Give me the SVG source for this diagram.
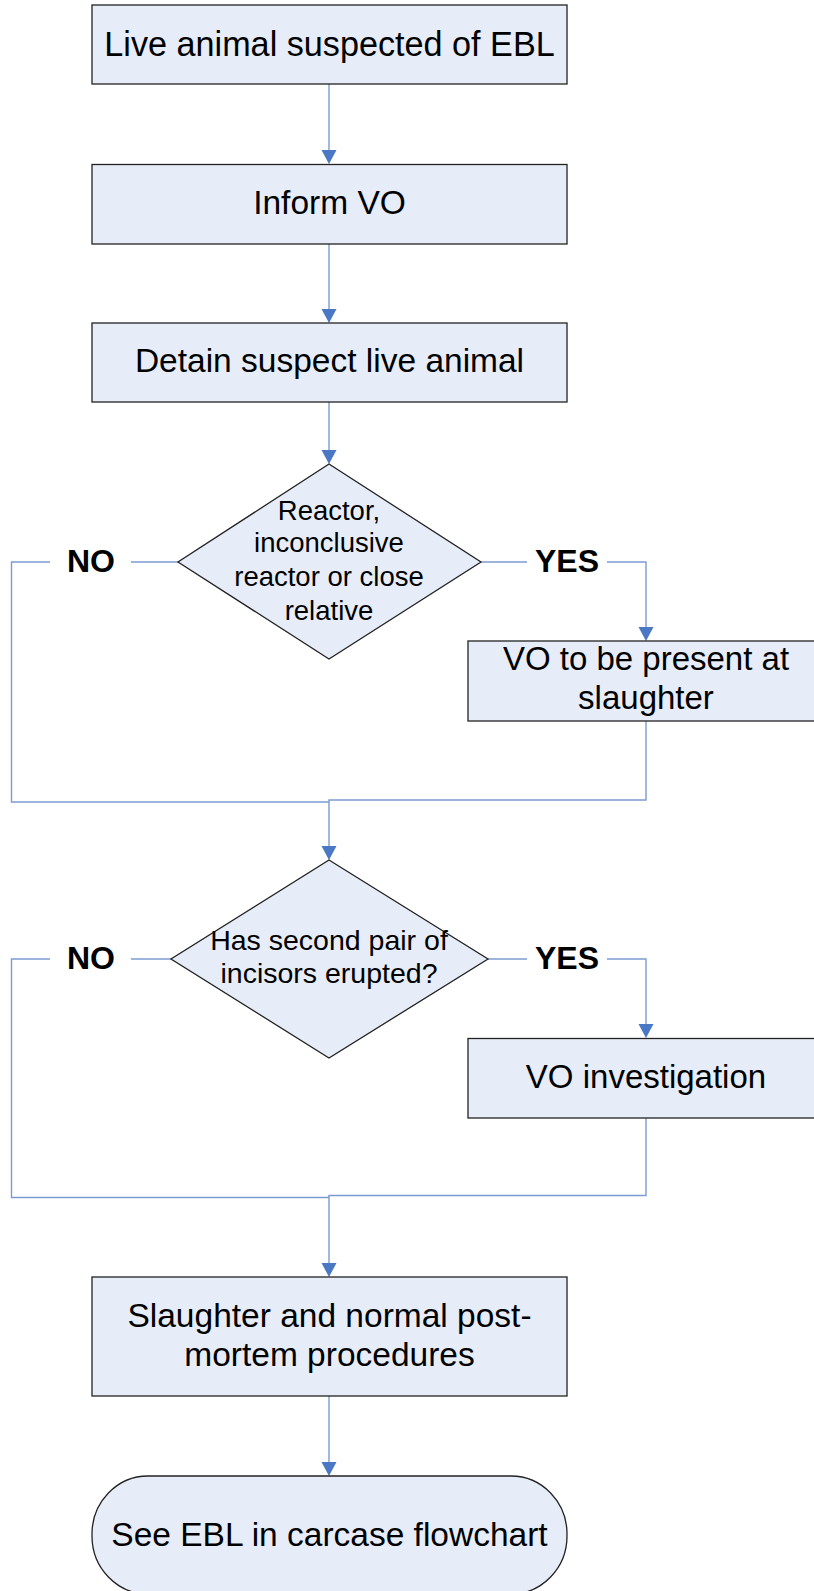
<svg xmlns="http://www.w3.org/2000/svg" width="814" height="1591" viewBox="0 0 814 1591">
<style>
.n{fill:#E7EDF8;stroke:#222;stroke-width:1.3}
.t{font-family:"Liberation Sans",Arial,sans-serif;font-size:33.5px;fill:#000;text-anchor:middle}
.d{font-family:"Liberation Sans",Arial,sans-serif;font-size:27.5px;fill:#000;text-anchor:middle}
.l{font-family:"Liberation Sans",Arial,sans-serif;font-size:32px;font-weight:bold;fill:#000;text-anchor:middle}
.c{fill:none;stroke:#7C9BD2;stroke-width:1.4}
.h{fill:#4A78C4}
</style>
<rect width="814" height="1591" fill="#fff"/>
<g id="connectors">
<line class="c" x1="329" y1="84" x2="329" y2="151"/>
<polygon class="h" points="321.5,150 336.5,150 329,164"/>
<line class="c" x1="329" y1="244" x2="329" y2="310"/>
<polygon class="h" points="321.5,309 336.5,309 329,323"/>
<line class="c" x1="329" y1="402" x2="329" y2="451"/>
<polygon class="h" points="321.5,450 336.5,450 329,464"/>
<polyline class="c" points="178,562 131,562"/>
<polyline class="c" points="50,562 11.5,562 11.5,802 329,802"/>
<polyline class="c" points="481,562 527,562"/>
<polyline class="c" points="607,562 646,562 646,628"/>
<polygon class="h" points="638.5,627 653.5,627 646,641"/>
<polyline class="c" points="646,721 646,800 329,800 329,847"/>
<polygon class="h" points="321.5,846 336.5,846 329,860"/>
<polyline class="c" points="171,959 131,959"/>
<polyline class="c" points="50,959 11.5,959 11.5,1197.5 329,1197.5"/>
<polyline class="c" points="488,959 527,959"/>
<polyline class="c" points="607,959 646,959 646,1025"/>
<polygon class="h" points="638.5,1024 653.5,1024 646,1038"/>
<polyline class="c" points="646,1118 646,1195.5 329,1195.5 329,1264"/>
<polygon class="h" points="321.5,1263 336.5,1263 329,1277"/>
<line class="c" x1="329" y1="1396" x2="329" y2="1463"/>
<polygon class="h" points="321.5,1462 336.5,1462 329,1476"/>
<text class="l" x="91" y="572">NO</text>
<text class="l" x="567" y="572">YES</text>
<text class="l" x="91" y="969">NO</text>
<text class="l" x="567" y="969">YES</text>
</g>
<g id="n1"><rect class="n" x="92" y="5" width="475" height="79"/><text class="t" x="329.5" y="56" style="font-size:34.2px">Live animal suspected of EBL</text></g>
<g id="n2"><rect class="n" x="92" y="164.5" width="475" height="79.5"/><text class="t" x="329.5" y="214">Inform VO</text></g>
<g id="n3"><rect class="n" x="92" y="323" width="475" height="79"/><text class="t" x="329.5" y="372">Detain suspect live animal</text></g>
<g id="d1"><polygon class="n" points="329,464 481,562 329,659 178,562"/>
<text class="d" x="329" y="520">Reactor,</text>
<text class="d" x="329" y="552">inconclusive</text>
<text class="d" x="329" y="586">reactor or close</text>
<text class="d" x="329" y="620">relative</text></g>
<g id="n4"><rect class="n" x="468" y="641" width="360" height="80"/>
<text class="t" x="646" y="670" style="font-size:33px">VO to be present at</text>
<text class="t" x="646" y="709" style="font-size:33px">slaughter</text></g>
<g id="d2"><polygon class="n" points="329,860 488,959 329,1058 171,959"/>
<text class="d" x="329" y="950" style="font-size:28.5px">Has second pair of</text>
<text class="d" x="329" y="983" style="font-size:28.5px">incisors erupted?</text></g>
<g id="n5"><rect class="n" x="468" y="1038.5" width="360" height="79.5"/><text class="t" x="646" y="1088" style="font-size:33px">VO investigation</text></g>
<g id="n6"><rect class="n" x="92" y="1277" width="475" height="119"/>
<text class="t" x="329.5" y="1327">Slaughter and normal post-</text>
<text class="t" x="329.5" y="1366">mortem procedures</text></g>
<g id="n7"><rect class="n" x="92" y="1476" width="475" height="118" rx="56" ry="58"/><text class="t" x="329.5" y="1546">See EBL in carcase flowchart</text></g>
</svg>
